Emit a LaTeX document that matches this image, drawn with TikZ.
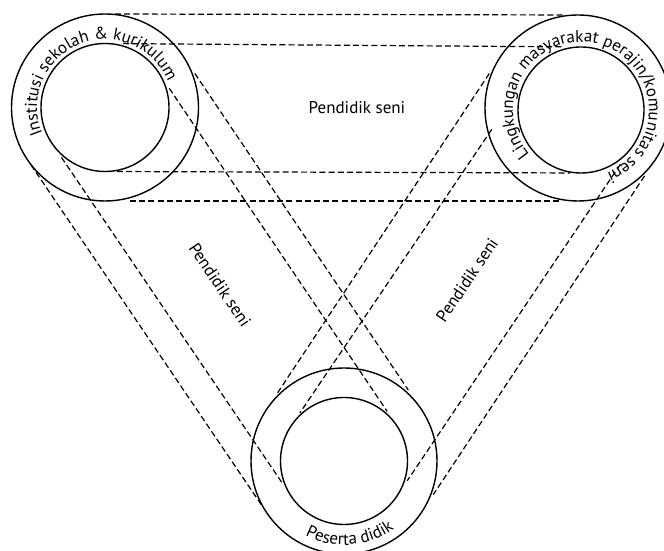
\documentclass[tikz,border=0pt]{standalone}
\usepackage{fontspec}
\setmainfont{PT Sans}
\usetikzlibrary{decorations.text}
\newcommand\lblfont{\fontsize{17}{17}\selectfont}
\begin{document}
\begin{tikzpicture}[x=1pt,y=1pt,
  ring/.style={circle, draw, line width=1.4pt, inner sep=0pt, outer sep=0pt},
  tube/.style={line width=1.2pt, dash pattern=on 6pt off 3.2pt},
  lbl/.style={font=\lblfont, inner sep=0pt}]
\useasboundingbox (0,0) rectangle (664,551);
\clip (0,0) rectangle (664,551);
% circles
\node[ring, minimum size=187pt] (TLo) at (105,443.5) {};
\node[ring, minimum size=128pt] (TLi) at (105,443.5) {};
\node[ring, minimum size=186pt] (TRo) at (578,443) {};
\node[ring, minimum size=126pt] (TRi) at (581,441) {};
\node[ring, minimum size=186pt] (Bo) at (344,90) {};
\node[ring, minimum size=127pt] (Bi) at (344,90) {};
% top tube
\draw[tube, shorten <=10pt, shorten >=13pt] (TLo.north) -- (TRo.north);
\draw[tube, shorten <=18pt, shorten >=18pt] (TLi.north) -- (TRi.north);
\draw[tube, shorten <=12pt, shorten >=11pt] (TLi.south) -- (TRi.south);
\draw[tube, shorten <=25pt, shorten >=16pt] (TLo.south) -- (TRo.south);
% left tube
\draw[tube, shorten <=22pt, shorten >=23pt] (TLo.34) -- (Bo.34);
\draw[tube, shorten <=20pt, shorten >=17pt] (TLi.34) -- (Bi.34);
\draw[tube, shorten <=6pt, shorten >=8pt] (TLo.214) -- (Bo.214);
\draw[tube, shorten <=17pt, shorten >=16pt] (TLi.214) -- (Bi.214);
% right tube
\draw[tube, shorten <=21pt, shorten >=17pt] (TRo.146.5) -- (Bo.146.5);
\draw[tube, shorten <=66pt, shorten >=15pt] (TRi.146.5) -- (Bi.146.5);
\draw[tube, shorten <=19pt, shorten >=22pt] (TRo.326.5) -- (Bo.326.5);
\draw[tube, shorten <=23pt, shorten >=19pt] (TRi.326.5) -- (Bi.326.5);
% straight labels
\node[lbl] (p1) at (357,443) {Pendidik seni};
\node[lbl, rotate=-56] (p2) at (220,266) {Pendidik seni};
\node[lbl, rotate=56] (p3) at (467,271) {Pendidik seni};
% curved labels
\path[decorate, decoration={text along path, text align=center,
  text={|\lblfont|Institusi sekolah {\&} kurikulum}}]
  ([shift={(222.5:68)}]TLo.center) arc[start angle=222.5, end angle=2.5, radius=68];
\path[decorate, decoration={text along path, text align=center,
  text={|\lblfont|Lingkungan masyarakat perajin/komunitas seni}}]
  ([shift={(230:68)}]TRi.center) arc[start angle=230, end angle=-77, radius=68];
\path[decorate, decoration={text along path, text align=center,
  text={|\lblfont|Peserta didik}}]
  ([shift={(219.5:84)}]Bo.center) arc[start angle=219.5, end angle=329.5, radius=84];
\end{tikzpicture}
\end{document}
